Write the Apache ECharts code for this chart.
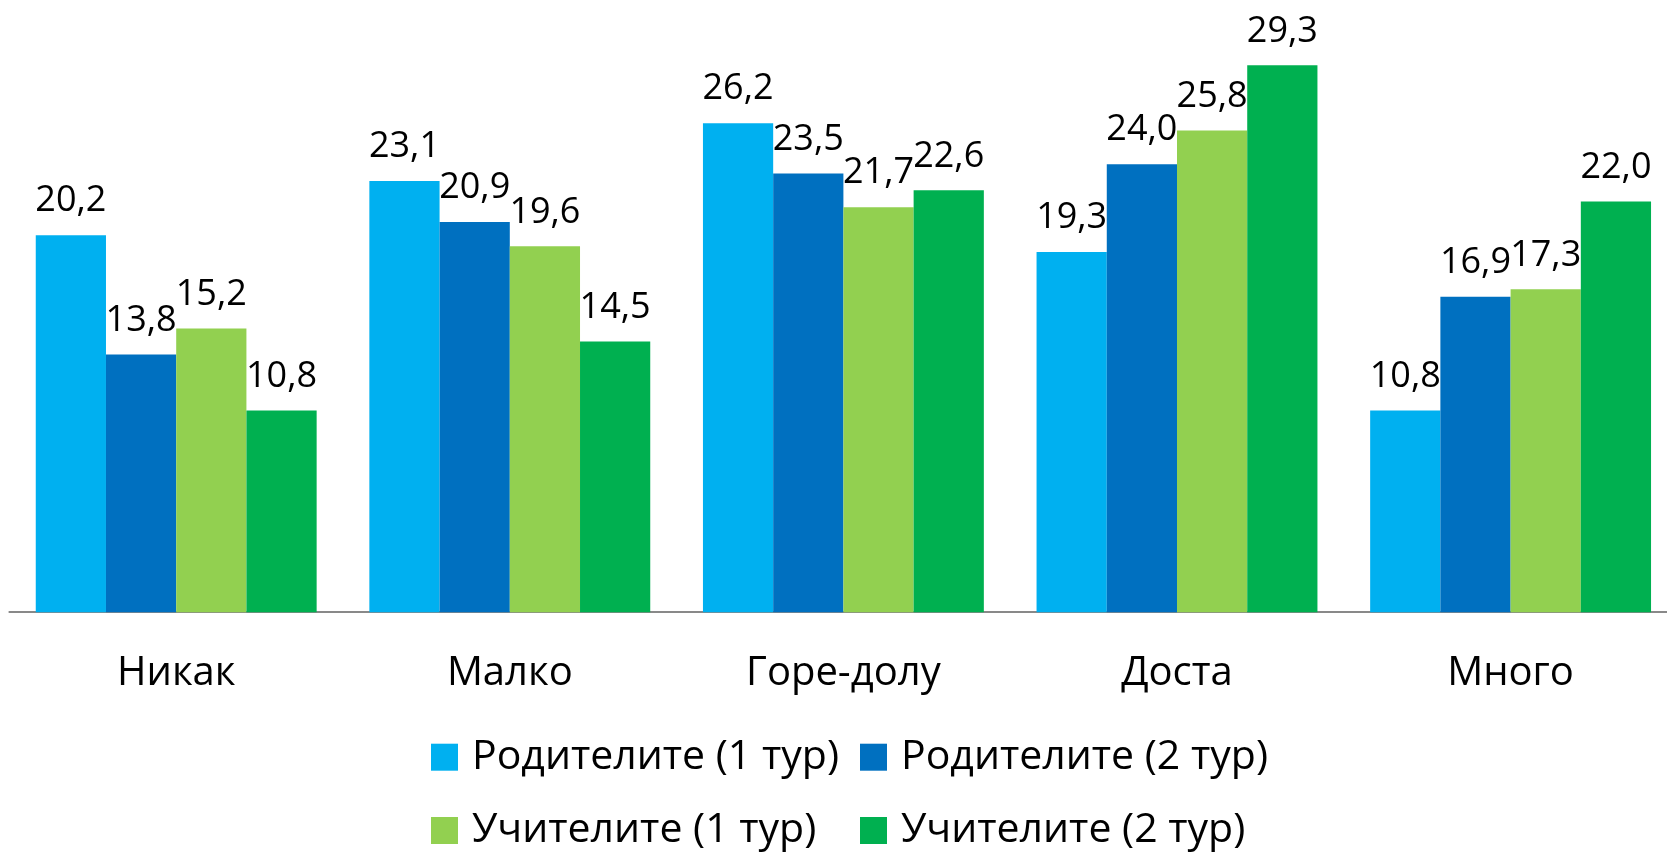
<!DOCTYPE html>
<html>
<head>
<meta charset="utf-8">
<script src="https://cdn.jsdelivr.net/npm/echarts@6/dist/echarts.min.js"></script>
<style>
html,body{margin:0;padding:0;background:#fff;overflow:hidden;width:1667px;height:853px;}
#chart{width:1680px;height:853px;}
</style>
</head>
<body>
<div id="chart"></div>
<script>
const categories = ['Никак', 'Малко', 'Горе-долу', 'Доста', 'Много'];
const seriesNames = ['Родителите (1 тур)', 'Родителите (2 тур)', 'Учителите (1 тур)', 'Учителите (2 тур)'];
const parents1 = [20.2, 23.1, 26.2, 19.3, 10.8];
const parents2 = [13.8, 20.9, 23.5, 24.0, 16.9];
const teachers1 = [15.2, 19.6, 21.7, 25.8, 17.3];
const teachers2 = [10.8, 14.5, 22.6, 29.3, 22.0];
const colors = ['#00B0F0', '#0070C0', '#92D050', '#00B050'];

const FONT = "'Open Sans', 'Liberation Sans', sans-serif";
const allData = [parents1, parents2, teachers1, teachers2];
const legendPos = [[431, 736.7], [860, 736.7], [431, 810], [860, 810]];

const chart = echarts.init(document.getElementById('chart'), null, {renderer: 'canvas'});
chart.setOption({
  animation: false,
  color: colors,
  grid: {left: 9.4, right: 2.6, top: 52.2, height: 560, containLabel: false},
  legend: seriesNames.map((n, i) => ({
    orient: 'horizontal',
    left: legendPos[i][0],
    top: legendPos[i][1],
    padding: 0,
    itemWidth: 27,
    itemHeight: 27,
    icon: 'rect',
    textStyle: {fontFamily: FONT, fontSize: 41, color: '#000', lineHeight: 30, padding: [0, 0, 0, 9]},
    selectedMode: false,
    data: [n]
  })),
  xAxis: {
    type: 'category',
    data: categories,
    axisLine: {show: true, lineStyle: {color: '#898989', width: 2}},
    axisTick: {show: false},
    axisLabel: {fontFamily: FONT, fontSize: 40, color: '#000', margin: 41}
  },
  yAxis: {
    type: 'value',
    min: 0,
    max: 30,
    show: false,
    splitLine: {show: false}
  },
  series: allData.map((d, i) => ({
    name: seriesNames[i],
    type: 'bar',
    data: d,
    barGap: '0%',
    barCategoryGap: '15.8%',
    itemStyle: {color: colors[i]},
    label: {
      show: true,
      position: 'top',
      distance: 16,
      fontFamily: FONT,
      fontSize: 36,
      color: '#000',
      formatter: p => p.value.toFixed(1).replace('.', ',')
    }
  }))
});
</script>
</body>
</html>
